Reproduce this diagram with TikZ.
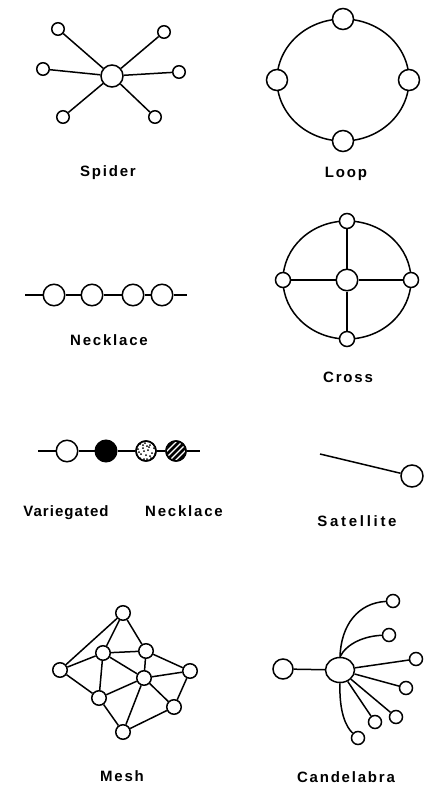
\documentclass[tikz,border=0pt]{standalone}
\usepackage{fontspec}
\usetikzlibrary{shapes.geometric}
\newfontfamily\labfont[LetterSpace=12]{Liberation Sans}
\newfontfamily\labfontn[LetterSpace=7]{Liberation Sans}
\newfontfamily\labfontw[LetterSpace=18]{Liberation Sans}
\begin{document}
\begin{tikzpicture}[x=1pt,y=-1pt,line width=1.5pt,
  nd/.style={circle,draw,fill=white,inner sep=0pt,minimum size=#1},
  nd/.default=21pt,
  lab/.style={anchor=base,inner sep=0pt,font=\labfont\bfseries\fontsize{15}{15}\selectfont},
  labn/.style={anchor=base,inner sep=0pt,font=\labfontn\bfseries\fontsize{15}{15}\selectfont},
  labw/.style={anchor=base,inner sep=0pt,font=\labfontw\bfseries\fontsize{15}{15}\selectfont}]
\useasboundingbox[fill=white] (0,0) rectangle (427,786);

% ---------- Spider ----------
\node[nd=22pt] (sp0) at (112,76) {};
\node[nd=12.5pt] (sp1) at (58,29) {};
\node[nd=12.5pt] (sp2) at (164,32) {};
\node[nd=12.5pt] (sp3) at (43,69) {};
\node[nd=12.5pt] (sp4) at (179,72) {};
\node[nd=12.5pt] (sp5) at (63,117) {};
\node[nd=12.5pt] (sp6) at (155,117) {};
\foreach \i in {1,...,6} \draw (sp0) -- (sp\i);
\node[lab] (spl) at (108,177) {Spider};

% ---------- Loop ----------
\draw (343,80) ellipse [x radius=66, y radius=61];
\node[nd] (lp1) at (343,19) {};
\node[nd] (lp2) at (409,80) {};
\node[nd] (lp3) at (343,141) {};
\node[nd] (lp4) at (277,80) {};
\node[lab] (lpl) at (346,178) {Loop};

% ---------- Necklace ----------
\coordinate (nk0) at (25,295);
\coordinate (nk5) at (187,295);
\node[nd=21.5pt] (nk1) at (54,295) {};
\node[nd=21.5pt] (nk2) at (92,295) {};
\node[nd=21.5pt] (nk3) at (133,295) {};
\node[nd=21.5pt] (nk4) at (162,295) {};
\draw (nk0) -- (nk1) -- (nk2) -- (nk3) -- (nk4) -- (nk5);
\node[lab] (nkl) at (109,345) {Necklace};

% ---------- Cross ----------
\draw (347,280) ellipse [x radius=64, y radius=59];
\node[nd=21.5pt] (cr0) at (347,280) {};
\node[nd=15pt] (cr1) at (347,221) {};
\node[nd=15pt] (cr2) at (411,280) {};
\node[nd=15pt] (cr3) at (347,339) {};
\node[nd=15pt] (cr4) at (283,280) {};
\foreach \i in {1,...,4} \draw (cr0) -- (cr\i);
\node[lab] (crl) at (348,382) {Cross};

% ---------- Variegated Necklace ----------
\coordinate (vn0) at (38,451);
\coordinate (vn5) at (200,451);
\node[nd=21.5pt] (vn1) at (67,451) {};
\node[nd=21.5pt,fill=black] (vn2) at (106,451) {};
\node[nd=20pt] (vn3) at (146,451) {};
\node[nd=20pt] (vn4) at (176,451) {};
\draw (vn0) -- (vn1) -- (vn2) -- (vn3) -- (vn4) -- (vn5);
\begin{scope}
  \clip (146,451) circle (9.4);
  \foreach \p in {(140,444),(145,443),(150,445),(154,448),(138,449),(143,448),
                  (148,450),(152,453),(141,454),(146,455),(137,455),(151,458),
                  (144,459),(149,447),(155,454),(140,458),(147,446),(153,444),
                  (139,452),(144,451),(150,456),(143,445),(156,451),(147,459)}
    \fill \p circle (1);
\end{scope}
\begin{scope}
  \clip (176,451) circle (9.4);
  \foreach \d in {-12,-6,0,6,12}
    \draw[line width=2.6pt] (176+\d-12,463) -- (176+\d+12,439);
\end{scope}
\draw (146,451) circle (10);
\draw (176,451) circle (10);
\node[labn] (vnl1) at (66,516) {Variegated};
\node[lab] (vnl2) at (184,516) {Necklace};

% ---------- Satellite ----------
\coordinate (st0) at (320,454);
\node[nd=22pt] (st1) at (412,476) {};
\draw (st0) -- (st1);
\node[labw] (stl) at (357,526) {Satellite};

% ---------- Mesh ----------
\foreach \n/\x/\y in {A/123/613,B/103/653,C/146/651,D/60/670,E/144/678,
                      F/190/671,G/99/698,H/174/707,I/123/732}
  \node[nd=14.5pt] (m\n) at (\x,\y) {};
\foreach \a/\b in {D/A,D/B,D/G,A/B,A/C,B/C,B/E,B/G,C/E,C/F,E/F,E/G,E/I,E/H,F/H,G/I,H/I}
  \draw (m\a) -- (m\b);
\node[lab] (ml) at (122,781) {Mesh};

% ---------- Candelabra ----------
\node[draw,fill=white,ellipse,inner sep=0pt,minimum width=29pt,minimum height=25pt] (cd0) at (340,670) {};
\node[nd=20pt] (cdL) at (283,669) {};
\node[nd=13pt] (cd1) at (393,601) {};
\node[nd=13pt] (cd2) at (389,635) {};
\node[nd=13pt] (cd3) at (416,659) {};
\node[nd=13pt] (cd4) at (406,688) {};
\node[nd=13pt] (cd5) at (396,717) {};
\node[nd=13pt] (cd6) at (375,722) {};
\node[nd=13pt] (cd7) at (358,738) {};
\draw (cdL) -- (cd0);
\draw (cd0.north) .. controls (341,625) and (358,603) .. (cd1);
\draw (cd0.north) .. controls (347,643) and (365,636) .. (cd2);
\draw (cd0) -- (cd3);
\draw (cd0) -- (cd4);
\draw (cd0) -- (cd5);
\draw (cd0) -- (cd6);
\draw (cd0.south) .. controls (339,712) and (346,727) .. (cd7);
\node[lab] (cdl) at (346,782) {Candelabra};
\end{tikzpicture}
\end{document}
